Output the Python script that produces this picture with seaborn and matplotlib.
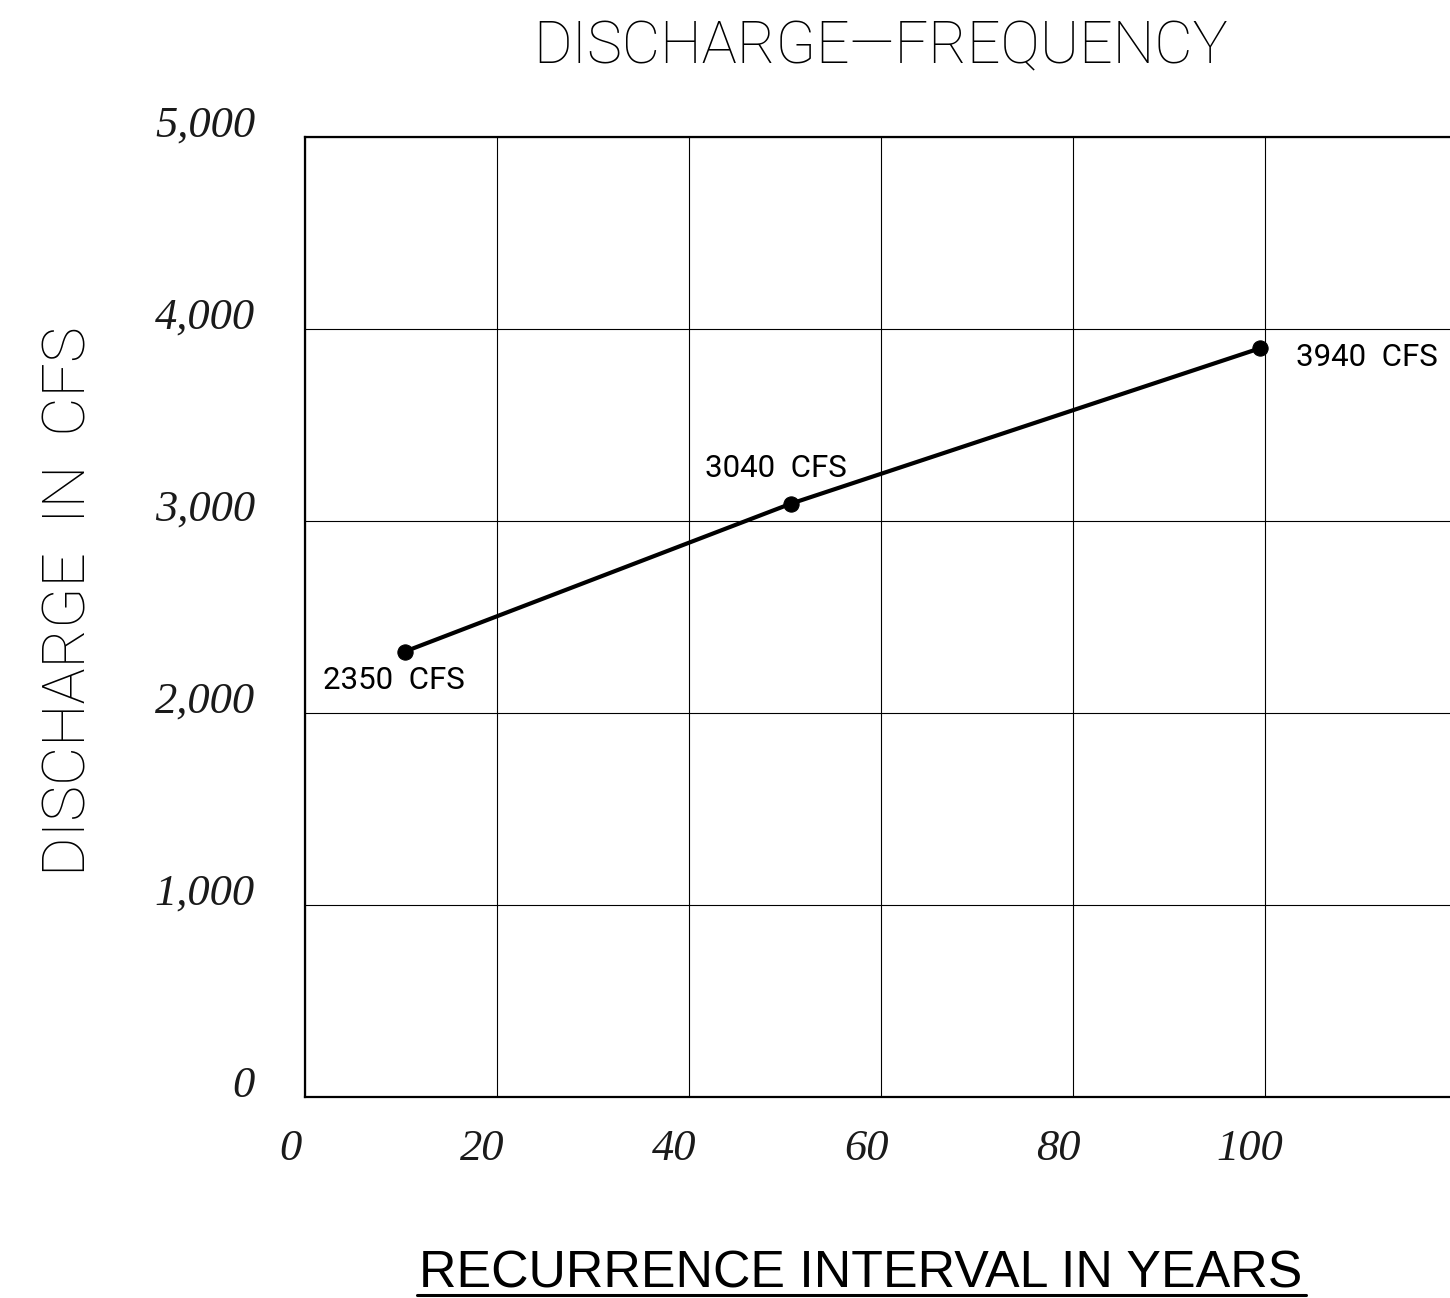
import numpy as np
import pandas as pd
import matplotlib
matplotlib.use("Agg")
import matplotlib.pyplot as plt
import matplotlib.transforms as mtransforms
from matplotlib.lines import Line2D
import seaborn as sns

# ============================================================================
# Data
# ============================================================================

recurrence_years = [10.4, 50.6, 99.5]
discharge_cfs = [2320, 3090, 3900]
point_labels = ["2350  CFS", "3040  CFS", "3940  CFS"]

x_ticks = [0, 20, 40, 60, 80, 100]
y_ticks = [0, 1000, 2000, 3000, 4000, 5000]
y_tick_labels = ["0", "1,000", "2,000", "3,000", "4,000", "5,000"]

df = pd.DataFrame({"Years": recurrence_years, "CFS": discharge_cfs})

# ============================================================================
# Style
# ============================================================================

sns.set_theme(style="white")
plt.rcParams["font.family"] = ["Roboto", "DejaVu Sans"]

cad_font = dict(family=["Roboto", "DejaVu Sans"], fontweight="light", color="black")
label_font = dict(family=["Roboto", "DejaVu Sans"], fontweight="normal", color="black")
tick_font = dict(family=["Liberation Serif", "DejaVu Serif"], style="italic", color="#1a1a1a")

fig = plt.figure(figsize=(14.5, 12.98), dpi=100)
ax = fig.add_axes([305 / 1450, 201 / 1298, 1152 / 1450, 960 / 1298])

# ============================================================================
# Plot
# ============================================================================

sns.lineplot(
    data=df, x="Years", y="CFS", ax=ax,
    color="black", linewidth=3, marker="o", markersize=11,
    markeredgecolor="black", markerfacecolor="black"
)

offsets = [(-8, -21, "center"), (-11, 25, "center"), (26, -6.5, "left")]
for xv, yv, lab, (dx, dy, ha) in zip(recurrence_years, discharge_cfs, point_labels, offsets):
    ax.annotate(lab, (xv, yv), xytext=(dx, dy), textcoords="offset points",
                ha=ha, va="center", fontsize=22.5, **label_font)

ax.set_xlim(0, 120)
ax.set_ylim(0, 5000)
ax.set_xticks(x_ticks)
ax.set_xticklabels([str(v) for v in x_ticks], fontsize=32, **tick_font)
ax.set_yticks(y_ticks)
ax.set_yticklabels(y_tick_labels, fontsize=32, **tick_font)
ax.tick_params(axis="both", length=0)
ax.tick_params(axis="x", pad=23)
ax.tick_params(axis="y", pad=36)
for lab in ax.get_yticklabels():
    lab.set_va("baseline")
shift = mtransforms.ScaledTranslation(-0.15, 0, fig.dpi_scale_trans)
for lab in ax.get_xticklabels():
    lab.set_transform(lab.get_transform() + shift)

ax.grid(True, color="black", linewidth=0.8)
for side in ["left", "bottom", "top", "right"]:
    ax.spines[side].set_color("black")
    ax.spines[side].set_linewidth(1.6)
ax.set_xlabel("")
ax.set_ylabel("")

# ============================================================================
# Titles
# ============================================================================

fig.text(881 / 1450, (1298 - 63) / 1298, "DISCHARGE\u2014FREQUENCY",
         ha="center", va="baseline", fontsize=42.5, **cad_font)
fig.text(69 / 1450, (1298 - 601) / 1298, "DISCHARGE  IN  CFS",
         ha="center", va="center", rotation=90, fontsize=43.5, **cad_font)
xl = fig.text(861 / 1450, (1298 - 1287) / 1298, "RECURRENCE INTERVAL IN YEARS",
              ha="center", va="baseline", fontsize=37.4,
              family=["Liberation Sans", "DejaVu Sans"], color="black")

fig.canvas.draw()
bb = xl.get_window_extent()
fig.add_artist(Line2D([(bb.x0 - 2) / 1450, (bb.x1 + 3) / 1450],
                      [(1298 - 1295) / 1298] * 2, color="black", linewidth=2.2))

fig.savefig("out.png", dpi=100, facecolor="white")
